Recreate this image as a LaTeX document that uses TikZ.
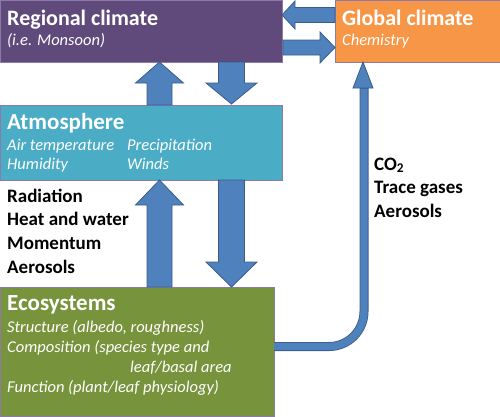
\documentclass[tikz,border=0pt]{standalone}
\usepackage{fontspec}
\setmainfont{Carlito}
\definecolor{regc}{HTML}{604A7B}
\definecolor{globc}{HTML}{F79646}
\definecolor{atmc}{HTML}{4BACC6}
\definecolor{ecoc}{HTML}{77933C}
\definecolor{arrfill}{HTML}{4F81BD}
\definecolor{arrline}{HTML}{385D8A}
\definecolor{edgec}{HTML}{8C7BA8}
\newcommand\varrowshape[6]{% x, ytip, ybase, yend, halfhead, halfshaft
  \filldraw[blk] (#1-#6,#4) -- (#1-#6,#3) -- (#1-#5,#3) -- (#1,#2) -- (#1+#5,#3) -- (#1+#6,#3) -- (#1+#6,#4) -- cycle;}
\newcommand\harrowshape[6]{% y, xtip, xbase, xend, halfhead, halfshaft
  \filldraw[blk] (#4,#1-#6) -- (#3,#1-#6) -- (#3,#1-#5) -- (#2,#1) -- (#3,#1+#5) -- (#3,#1+#6) -- (#4,#1+#6) -- cycle;}
\begin{document}
\begin{tikzpicture}[x=1pt,y=-1pt,
  box/.style={draw=edgec, line width=0.6pt, inner sep=0pt, outer sep=0pt, anchor=north west},
  blk/.style={fill=arrfill, draw=arrline, line width=0.8pt, line join=miter},
  title/.style={anchor=base west, inner sep=0pt, text=white, font=\bfseries\fontsize{22}{22}\selectfont},
  bigtitle/.style={title, font=\bfseries\fontsize{23}{23}\selectfont},
  sub/.style={anchor=base west, inner sep=0pt, text=white, font=\itshape\fontsize{16.5}{16.5}\selectfont},
  lab/.style={anchor=base west, inner sep=0pt, text=black, font=\bfseries\fontsize{19}{19}\selectfont}]
\useasboundingbox (0,0) rectangle (500,416);
% boxes
\node[box, fill=regc, minimum width=282pt, minimum height=62pt] (reg) at (0,0) {};
\node[box, fill=globc, minimum width=165pt, minimum height=62pt] (glob) at (335,0) {};
\node[box, fill=atmc, minimum width=282pt, minimum height=75pt] (atm) at (0,105) {};
\node[box, fill=ecoc, minimum width=274pt, minimum height=129pt] (eco) at (0,287) {};
% box texts
\node[title] (regt) at (7,25) {Regional climate};
\node[sub] (regs) at (7,45.5) {(i.e. Monsoon)};
\node[title] (globt) at (342,25) {Global climate};
\node[sub] (globs) at (342,45.5) {Chemistry};
\node[bigtitle] (atmt) at (7,129.5) {Atmosphere};
\node[sub] (atm1) at (7,150) {Air temperature};
\node[sub] (atm2) at (127,150) {Precipitation};
\node[sub] (atm3) at (7,169.5) {Humidity};
\node[sub] (atm4) at (127,169.5) {Winds};
\node[bigtitle] (ecot) at (7,310) {Ecosystems};
\node[sub] (eco1) at (7,332) {Structure (albedo, roughness)};
\node[sub] (eco2) at (7,352) {Composition (species type and};
\node[sub] (eco3) at (130,372) {leaf/basal area};
\node[sub] (eco4) at (7,392) {Function (plant/leaf physiology)};
% side labels
\node[lab] (l1) at (7,202) {Radiation};
\node[lab] (l2) at (7,225) {Heat and water};
\node[lab] (l3) at (7,249) {Momentum};
\node[lab] (l4) at (7,273) {Aerosols};
\node[lab] (r1) at (374,170) {CO\textsubscript{2}};
\node[lab] (r2) at (374,193) {Trace gases};
\node[lab] (r3) at (374,217) {Aerosols};
% block arrows between regional and global
\harrowshape{15}{282}{295}{335}{14}{7.5}
\harrowshape{47.5}{335}{320}{283}{15.5}{7.5}
% regional <-> atmosphere
\varrowshape{159.5}{62}{83}{105}{24}{12.5}
\varrowshape{231.5}{104}{83}{62}{25.5}{13}
% atmosphere <-> ecosystems
\varrowshape{159.5}{180}{205}{287}{24}{12.5}
\varrowshape{231.5}{287}{262}{180}{25.5}{13}
% ecosystems -> global climate
\draw[arrline, line width=9pt, rounded corners=35pt] (eco.east |- 0,346.5) -- (364,346.5) -- (364,88);
\draw[arrfill, line width=7.4pt, rounded corners=35pt] (eco.east |- 0,346.5) -- (364,346.5) -- (364,88.5);
\filldraw[blk] (353,88) -- (glob.south -| 363,0) -- (373,88) -- cycle;
\end{tikzpicture}
\end{document}
